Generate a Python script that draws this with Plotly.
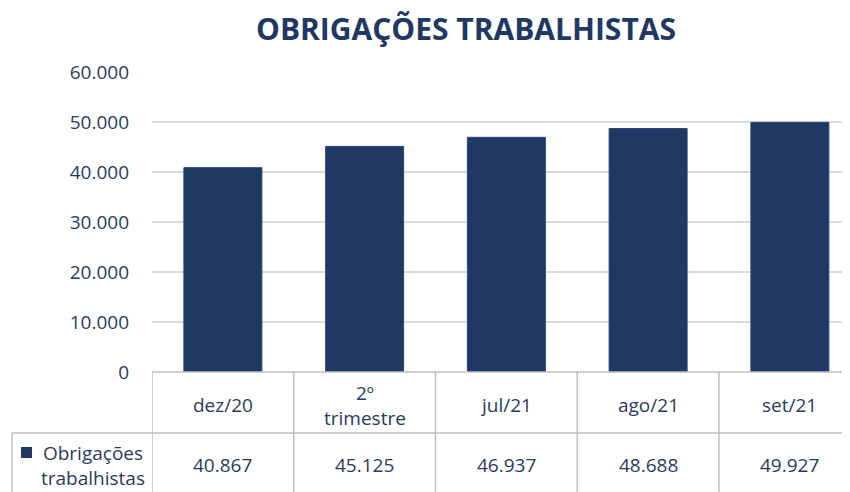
import plotly.graph_objects as go

categories = ["dez/20", "2º<br>trimestre", "jul/21", "ago/21", "set/21"]
values = [40867, 45125, 46937, 48688, 49927]
value_labels = ["40.867", "45.125", "46.937", "48.688", "49.927"]
series_name = "Obrigações<br>trabalhistas"
tick_vals = [0, 10000, 20000, 30000, 40000, 50000, 60000]
tick_text = ["0", "10.000", "20.000", "30.000", "40.000", "50.000", "60.000"]
title_text = "OBRIGAÇÕES TRABALHISTAS"

OFF = 8                      # page body margin
SW, SH = 850, 492            # screenshot size
W, H = SW - OFF, SH - OFF
PL, PT, PB = 152, 72, 372    # plot area in screenshot pixels
ML, MT = PL - OFF, PT - OFF
MB = H - (PB - OFF)
PW, PH = W - ML, PB - PT
COLW = 141.75

BAR = "#1F3864"
TXT = "#2B3A60"
GRID = "#D9D9D9"
TBL = "#BFBFBF"
FONT = "Open Sans"


def py(s):
    return (PB - s) / PH


def px(s):
    return (s - PL) / PW


n = len(categories)
xs = list(range(n))

fig = go.Figure(go.Bar(
    x=xs, y=values, width=0.55,
    marker=dict(color=BAR, line=dict(color="#2A4578", width=1)),
    hoverinfo="skip",
))

shapes = []
shapes.append(dict(type="line", xref="paper", yref="paper", x0=0, x1=1, y0=0, y1=0,
                   line=dict(color=TBL, width=1.5)))
shapes.append(dict(type="line", xref="paper", yref="paper", x0=px(12), x1=1,
                   y0=py(433), y1=py(433), line=dict(color=TBL, width=1.5)))
for i in range(n + 1):
    shapes.append(dict(type="line", xref="x", yref="paper", x0=i - 0.5, x1=i - 0.5,
                       y0=0, y1=py(SH + 5), line=dict(color=TBL, width=1.5)))
shapes.append(dict(type="line", xref="paper", yref="paper", x0=px(12), x1=px(12),
                   y0=py(433), y1=py(SH + 5), line=dict(color=TBL, width=1.5)))
shapes.append(dict(type="rect", xref="paper", yref="paper", x0=px(21), x1=px(32),
                   y0=py(458), y1=py(447), fillcolor=BAR, line=dict(width=0)))

annotations = []
for i, (c, v) in enumerate(zip(categories, value_labels)):
    annotations.append(dict(x=i, y=py(405), xref="x", yref="paper", text=c,
                            showarrow=False, font=dict(family=FONT, size=19, color=TXT),
                            align="center", xanchor="center", yanchor="middle"))
    annotations.append(dict(x=i, y=py(465), xref="x", yref="paper", text=v,
                            showarrow=False, font=dict(family=FONT, size=19, color=TXT),
                            xanchor="center", yanchor="middle"))
annotations.append(dict(x=px(93), y=py(465), xref="paper", yref="paper", text=series_name,
                        showarrow=False, font=dict(family=FONT, size=19, color=TXT),
                        align="center", xanchor="center", yanchor="middle"))

fig.update_layout(
    width=W, height=H,
    margin=dict(l=ML, r=0, t=MT, b=MB, autoexpand=False),
    paper_bgcolor="white", plot_bgcolor="white",
    title=dict(text="<b>" + title_text + "</b>", x=(466 - OFF) / W, xanchor="center",
               y=1 - (29 - OFF) / H, yanchor="middle",
               font=dict(family=FONT, size=30, color=BAR)),
    showlegend=False,
    xaxis=dict(range=[-0.5, -0.5 + PW / COLW], showticklabels=False,
               showgrid=False, zeroline=False, showline=False, fixedrange=True),
    yaxis=dict(range=[0, 60000], tickvals=tick_vals, ticktext=tick_text,
               showgrid=True, gridcolor=GRID, gridwidth=1.5, zeroline=False,
               showline=False, ticks="", ticklabelstandoff=22,
               tickfont=dict(family=FONT, size=19, color=TXT), fixedrange=True),
    shapes=shapes,
    annotations=annotations,
)

fig.write_html("out.html")
